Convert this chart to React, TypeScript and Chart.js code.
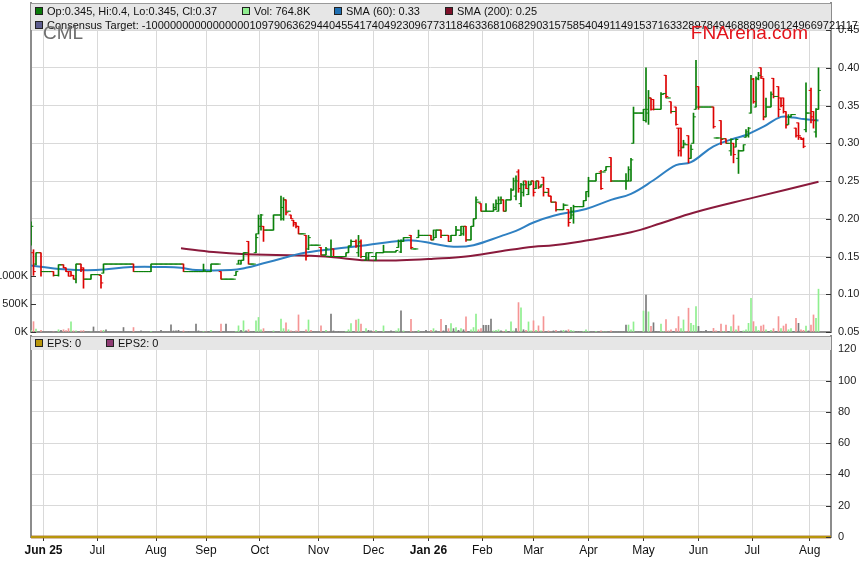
import React, { useEffect, useRef } from 'react';
import { Chart, registerables } from 'chart.js';

Chart.register(...registerables);

const FONT = "'Liberation Sans', Arial, sans-serif";
Chart.defaults.font.family = FONT;

type Bar = [number, number, number, number, number, number];

// trading-day index of the first session of each month
const monthDays = [5, 26.5, 50, 70, 91.5, 115, 137, 159, 180.5, 201, 223, 245, 267, 288.5, 311.5];
const monthLabels = ['Jun 25', 'Jul', 'Aug', 'Sep', 'Oct', 'Nov', 'Dec', 'Jan 26', 'Feb', 'Mar', 'Apr', 'May', 'Jun', 'Jul', 'Aug'];

const priceTicks = [0.05, 0.1, 0.15, 0.2, 0.25, 0.3, 0.35, 0.4, 0.45];
const volumeTicks = [0, 500, 1000]; // thousands
const epsTicks = [0, 20, 40, 60, 80, 100, 120];

// [day, open, high, low, close, volume in K]
const priceBars: Bar[] = [
  [0, 0.17, 0.196, 0.165, 0.19, 30], [1, 0.155, 0.159, 0.125, 0.13, 185], [2, 0.14, 0.155, 0.139, 0.155, 50],
  [3, 0.155, 0.155, 0.155, 0.155, 0], [4, 0.155, 0.155, 0.124, 0.13, 30], [5, 0.13, 0.13, 0.13, 0.13, 0],
  [6, 0.13, 0.13, 0.13, 0.13, 0], [7, 0.13, 0.13, 0.13, 0.13, 0], [8, 0.13, 0.13, 0.13, 0.13, 0],
  [9, 0.13, 0.13, 0.124, 0.125, 0], [10, 0.125, 0.125, 0.125, 0.125, 0], [11, 0.125, 0.139, 0.124, 0.139, 40],
  [12, 0.139, 0.139, 0.139, 0.139, 30], [13, 0.139, 0.139, 0.135, 0.135, 40], [14, 0.135, 0.135, 0.13, 0.13, 25],
  [15, 0.13, 0.13, 0.124, 0.124, 60], [16, 0.13, 0.13, 0.124, 0.125, 180], [17, 0.125, 0.125, 0.12, 0.12, 20],
  [18, 0.12, 0.14, 0.115, 0.14, 20], [19, 0.14, 0.14, 0.14, 0.14, 0], [20, 0.14, 0.14, 0.13, 0.133, 20],
  [21, 0.135, 0.135, 0.108, 0.12, 25], [22, 0.12, 0.12, 0.12, 0.12, 0], [23, 0.12, 0.12, 0.12, 0.12, 0],
  [24, 0.12, 0.126, 0.12, 0.126, 0], [25, 0.126, 0.126, 0.126, 0.126, 90], [26, 0.126, 0.126, 0.126, 0.126, 0],
  [27, 0.126, 0.126, 0.126, 0.126, 0], [28, 0.125, 0.125, 0.108, 0.115, 25], [29, 0.128, 0.14, 0.128, 0.14, 30],
  [30, 0.14, 0.14, 0.14, 0.14, 40], [31, 0.14, 0.14, 0.14, 0.14, 0], [32, 0.14, 0.14, 0.14, 0.14, 0],
  [33, 0.14, 0.14, 0.14, 0.14, 0], [34, 0.14, 0.14, 0.14, 0.14, 0], [35, 0.14, 0.14, 0.14, 0.14, 0],
  [36, 0.14, 0.14, 0.14, 0.14, 0], [37, 0.14, 0.14, 0.14, 0.14, 80], [38, 0.14, 0.14, 0.14, 0.14, 0],
  [39, 0.14, 0.14, 0.14, 0.14, 0], [40, 0.14, 0.14, 0.14, 0.14, 0], [41, 0.14, 0.14, 0.13, 0.13, 80],
  [42, 0.13, 0.13, 0.13, 0.13, 0], [43, 0.13, 0.13, 0.13, 0.13, 0], [44, 0.13, 0.13, 0.13, 0.13, 20],
  [45, 0.13, 0.13, 0.13, 0.13, 0], [46, 0.13, 0.13, 0.13, 0.13, 0], [47, 0.13, 0.13, 0.13, 0.13, 0],
  [48, 0.13, 0.14, 0.13, 0.14, 10], [49, 0.14, 0.14, 0.14, 0.14, 0], [50, 0.14, 0.14, 0.14, 0.14, 0],
  [51, 0.14, 0.14, 0.14, 0.14, 0], [52, 0.14, 0.14, 0.14, 0.14, 30], [53, 0.14, 0.14, 0.14, 0.14, 0],
  [54, 0.14, 0.14, 0.14, 0.14, 0], [55, 0.14, 0.14, 0.14, 0.14, 0], [56, 0.14, 0.14, 0.14, 0.14, 130],
  [57, 0.14, 0.14, 0.14, 0.14, 20], [58, 0.14, 0.14, 0.14, 0.14, 20], [59, 0.14, 0.14, 0.14, 0.14, 30],
  [60, 0.14, 0.14, 0.14, 0.14, 0], [61, 0.14, 0.14, 0.13, 0.13, 20], [62, 0.13, 0.13, 0.13, 0.13, 0],
  [63, 0.13, 0.13, 0.13, 0.13, 10], [64, 0.13, 0.13, 0.13, 0.13, 0], [65, 0.13, 0.13, 0.13, 0.13, 0],
  [66, 0.13, 0.13, 0.13, 0.13, 140], [67, 0.13, 0.13, 0.13, 0.13, 20], [68, 0.13, 0.13, 0.13, 0.13, 0],
  [69, 0.13, 0.14, 0.13, 0.132, 10], [70, 0.13, 0.13, 0.13, 0.13, 0], [71, 0.13, 0.13, 0.13, 0.13, 10],
  [72, 0.13, 0.14, 0.13, 0.14, 30], [73, 0.14, 0.14, 0.14, 0.14, 0], [74, 0.14, 0.14, 0.14, 0.14, 0],
  [75, 0.14, 0.14, 0.14, 0.14, 0], [76, 0.13, 0.13, 0.12, 0.12, 140], [77, 0.12, 0.12, 0.12, 0.12, 0],
  [78, 0.12, 0.12, 0.12, 0.12, 140], [79, 0.12, 0.12, 0.12, 0.12, 0], [80, 0.12, 0.12, 0.12, 0.12, 0],
  [81, 0.12, 0.12, 0.12, 0.12, 0], [82, 0.125, 0.13, 0.125, 0.13, 10], [83, 0.14, 0.145, 0.14, 0.145, 110],
  [84, 0.14, 0.145, 0.14, 0.145, 30], [85, 0.145, 0.155, 0.145, 0.155, 200], [86, 0.155, 0.155, 0.155, 0.155, 20],
  [87, 0.17, 0.17, 0.14, 0.14, 40], [88, 0.14, 0.14, 0.14, 0.14, 0], [89, 0.14, 0.14, 0.14, 0.14, 10],
  [90, 0.155, 0.18, 0.155, 0.175, 200], [91, 0.18, 0.205, 0.18, 0.2, 260], [92, 0.19, 0.206, 0.185, 0.205, 40],
  [93, 0.19, 0.19, 0.17, 0.185, 60], [94, 0.185, 0.185, 0.185, 0.185, 0], [95, 0.185, 0.185, 0.185, 0.185, 0],
  [96, 0.185, 0.185, 0.185, 0.185, 0], [97, 0.185, 0.205, 0.185, 0.205, 20], [98, 0.205, 0.205, 0.205, 0.205, 0],
  [99, 0.205, 0.205, 0.205, 0.205, 0], [100, 0.205, 0.23, 0.198, 0.215, 230], [101, 0.2, 0.228, 0.198, 0.225, 60],
  [102, 0.225, 0.225, 0.205, 0.208, 165], [103, 0.21, 0.21, 0.21, 0.21, 40], [104, 0.205, 0.205, 0.2, 0.2, 20],
  [105, 0.198, 0.198, 0.19, 0.193, 0], [106, 0.195, 0.195, 0.188, 0.19, 20], [107, 0.19, 0.19, 0.18, 0.18, 305],
  [108, 0.18, 0.18, 0.18, 0.18, 0], [109, 0.18, 0.18, 0.18, 0.18, 0], [110, 0.178, 0.178, 0.145, 0.15, 40],
  [111, 0.16, 0.178, 0.159, 0.175, 215], [112, 0.165, 0.165, 0.165, 0.165, 30], [113, 0.165, 0.165, 0.165, 0.165, 0],
  [114, 0.165, 0.165, 0.165, 0.165, 0], [115, 0.165, 0.165, 0.165, 0.165, 0], [116, 0.162, 0.162, 0.152, 0.152, 110],
  [117, 0.152, 0.152, 0.152, 0.152, 0], [118, 0.152, 0.162, 0.152, 0.16, 30], [119, 0.15, 0.15, 0.15, 0.15, 0],
  [120, 0.15, 0.172, 0.15, 0.15, 320], [121, 0.16, 0.16, 0.15, 0.15, 20], [122, 0.15, 0.15, 0.15, 0.15, 0],
  [123, 0.15, 0.15, 0.15, 0.15, 10], [124, 0.15, 0.15, 0.15, 0.15, 0], [125, 0.15, 0.15, 0.15, 0.15, 0],
  [126, 0.15, 0.155, 0.15, 0.155, 10], [127, 0.155, 0.164, 0.155, 0.164, 40], [128, 0.164, 0.172, 0.164, 0.17, 150],
  [129, 0.17, 0.17, 0.17, 0.17, 0], [130, 0.17, 0.172, 0.162, 0.164, 215], [131, 0.155, 0.178, 0.15, 0.168, 230],
  [132, 0.17, 0.172, 0.148, 0.15, 140], [133, 0.15, 0.15, 0.15, 0.15, 0], [134, 0.145, 0.155, 0.145, 0.155, 60],
  [135, 0.148, 0.155, 0.145, 0.155, 30], [136, 0.155, 0.155, 0.155, 0.155, 20], [137, 0.15, 0.15, 0.15, 0.15, 10],
  [138, 0.145, 0.155, 0.145, 0.155, 30], [139, 0.155, 0.155, 0.155, 0.155, 0], [140, 0.155, 0.155, 0.155, 0.155, 0],
  [141, 0.155, 0.165, 0.155, 0.156, 110], [142, 0.156, 0.156, 0.156, 0.156, 0], [143, 0.156, 0.156, 0.156, 0.156, 0],
  [144, 0.156, 0.156, 0.156, 0.156, 20], [145, 0.156, 0.156, 0.156, 0.156, 0], [146, 0.156, 0.158, 0.156, 0.158, 20],
  [147, 0.162, 0.172, 0.162, 0.17, 60], [148, 0.156, 0.172, 0.155, 0.17, 380], [149, 0.17, 0.175, 0.17, 0.175, 20],
  [150, 0.175, 0.175, 0.175, 0.175, 0], [151, 0.175, 0.175, 0.175, 0.175, 0], [152, 0.178, 0.178, 0.16, 0.162, 225],
  [153, 0.16, 0.16, 0.16, 0.16, 0], [154, 0.16, 0.16, 0.16, 0.16, 0], [155, 0.175, 0.185, 0.175, 0.178, 30],
  [156, 0.178, 0.178, 0.178, 0.178, 0], [157, 0.178, 0.178, 0.178, 0.178, 0], [158, 0.178, 0.178, 0.178, 0.178, 30],
  [159, 0.178, 0.178, 0.178, 0.178, 0], [160, 0.178, 0.178, 0.172, 0.172, 30], [161, 0.172, 0.185, 0.172, 0.185, 60],
  [162, 0.175, 0.185, 0.175, 0.185, 20], [163, 0.185, 0.185, 0.185, 0.185, 0], [164, 0.185, 0.185, 0.175, 0.178, 225],
  [165, 0.178, 0.178, 0.178, 0.178, 20], [166, 0.178, 0.178, 0.178, 0.178, 120], [167, 0.178, 0.178, 0.17, 0.17, 60],
  [168, 0.17, 0.178, 0.17, 0.178, 150], [169, 0.178, 0.178, 0.178, 0.178, 60], [170, 0.178, 0.19, 0.178, 0.185, 80],
  [171, 0.185, 0.185, 0.185, 0.185, 30], [172, 0.178, 0.19, 0.178, 0.19, 60], [173, 0.18, 0.19, 0.178, 0.19, 40],
  [174, 0.19, 0.19, 0.17, 0.172, 270], [175, 0.172, 0.172, 0.172, 0.172, 10], [176, 0.172, 0.19, 0.172, 0.19, 40],
  [177, 0.19, 0.2, 0.19, 0.2, 80], [178, 0.2, 0.229, 0.2, 0.225, 320], [179, 0.222, 0.222, 0.222, 0.222, 40],
  [180, 0.22, 0.22, 0.21, 0.21, 60], [181, 0.21, 0.21, 0.21, 0.21, 120], [182, 0.21, 0.22, 0.21, 0.21, 120],
  [183, 0.21, 0.21, 0.21, 0.21, 120], [184, 0.21, 0.21, 0.21, 0.21, 230], [185, 0.21, 0.22, 0.21, 0.215, 20],
  [186, 0.212, 0.225, 0.212, 0.22, 30], [187, 0.21, 0.229, 0.21, 0.225, 40], [188, 0.22, 0.229, 0.22, 0.225, 20],
  [189, 0.225, 0.225, 0.21, 0.21, 10], [190, 0.21, 0.225, 0.21, 0.225, 40], [191, 0.225, 0.225, 0.225, 0.225, 10],
  [192, 0.225, 0.24, 0.225, 0.238, 180], [193, 0.238, 0.254, 0.238, 0.25, 20], [194, 0.23, 0.257, 0.225, 0.25, 60],
  [195, 0.262, 0.265, 0.235, 0.24, 525], [196, 0.22, 0.247, 0.216, 0.245, 430], [197, 0.235, 0.25, 0.23, 0.245, 40],
  [198, 0.25, 0.25, 0.24, 0.24, 30], [199, 0.232, 0.25, 0.232, 0.245, 180], [200, 0.245, 0.25, 0.245, 0.25, 20],
  [201, 0.25, 0.25, 0.23, 0.235, 200], [202, 0.24, 0.25, 0.24, 0.25, 30], [203, 0.25, 0.25, 0.24, 0.242, 110],
  [204, 0.242, 0.245, 0.242, 0.245, 20], [205, 0.255, 0.255, 0.23, 0.235, 275], [206, 0.235, 0.235, 0.235, 0.235, 0],
  [207, 0.24, 0.24, 0.23, 0.23, 20], [208, 0.23, 0.23, 0.222, 0.222, 0], [209, 0.222, 0.222, 0.222, 0.222, 20],
  [210, 0.222, 0.222, 0.21, 0.212, 30], [211, 0.212, 0.212, 0.212, 0.212, 0], [212, 0.212, 0.212, 0.212, 0.212, 20],
  [213, 0.212, 0.22, 0.212, 0.218, 30], [214, 0.218, 0.218, 0.218, 0.218, 20], [215, 0.212, 0.212, 0.19, 0.195, 40],
  [216, 0.2, 0.215, 0.2, 0.21, 30], [217, 0.205, 0.218, 0.194, 0.216, 20], [218, 0.216, 0.216, 0.216, 0.216, 10],
  [219, 0.216, 0.216, 0.216, 0.216, 10], [220, 0.216, 0.216, 0.216, 0.216, 0], [221, 0.216, 0.224, 0.216, 0.224, 10],
  [222, 0.224, 0.236, 0.224, 0.236, 40], [223, 0.236, 0.255, 0.229, 0.25, 10], [224, 0.25, 0.25, 0.25, 0.25, 0],
  [225, 0.25, 0.25, 0.25, 0.25, 0], [226, 0.25, 0.26, 0.25, 0.26, 10], [227, 0.26, 0.26, 0.26, 0.26, 0],
  [228, 0.262, 0.264, 0.239, 0.24, 20], [229, 0.262, 0.262, 0.262, 0.262, 0], [230, 0.264, 0.269, 0.264, 0.269, 0],
  [231, 0.269, 0.269, 0.269, 0.269, 0], [232, 0.281, 0.281, 0.249, 0.25, 20], [233, 0.25, 0.25, 0.25, 0.25, 0],
  [234, 0.25, 0.25, 0.25, 0.25, 0], [235, 0.25, 0.25, 0.25, 0.25, 0], [236, 0.25, 0.25, 0.25, 0.25, 0],
  [237, 0.25, 0.25, 0.25, 0.25, 0], [238, 0.25, 0.26, 0.239, 0.25, 125], [239, 0.25, 0.269, 0.25, 0.265, 125],
  [240, 0.25, 0.28, 0.25, 0.278, 40], [241, 0.3, 0.348, 0.3, 0.34, 180], [242, 0.34, 0.34, 0.34, 0.34, 0],
  [243, 0.34, 0.34, 0.34, 0.34, 0], [244, 0.34, 0.34, 0.34, 0.34, 0], [245, 0.34, 0.345, 0.33, 0.345, 375],
  [246, 0.33, 0.4, 0.328, 0.345, 660], [247, 0.34, 0.37, 0.325, 0.36, 360], [248, 0.36, 0.36, 0.344, 0.345, 100],
  [249, 0.358, 0.358, 0.344, 0.345, 165], [250, 0.345, 0.345, 0.345, 0.345, 10], [251, 0.345, 0.345, 0.345, 0.345, 0],
  [252, 0.345, 0.367, 0.345, 0.365, 140], [253, 0.365, 0.366, 0.365, 0.366, 10], [254, 0.39, 0.39, 0.36, 0.362, 220],
  [255, 0.36, 0.36, 0.36, 0.36, 20], [256, 0.355, 0.355, 0.34, 0.342, 40], [257, 0.342, 0.342, 0.342, 0.342, 10],
  [258, 0.348, 0.348, 0.324, 0.325, 60], [259, 0.32, 0.32, 0.283, 0.29, 275], [260, 0.32, 0.32, 0.283, 0.295, 60],
  [261, 0.294, 0.304, 0.294, 0.3, 215], [262, 0.298, 0.298, 0.298, 0.298, 10], [263, 0.31, 0.31, 0.274, 0.28, 425],
  [264, 0.28, 0.298, 0.28, 0.292, 155], [265, 0.3, 0.34, 0.3, 0.335, 120], [266, 0.345, 0.41, 0.345, 0.348, 455],
  [267, 0.375, 0.375, 0.345, 0.348, 100], [268, 0.348, 0.348, 0.348, 0.348, 10], [269, 0.348, 0.348, 0.348, 0.348, 0],
  [270, 0.348, 0.348, 0.348, 0.348, 30], [271, 0.348, 0.348, 0.348, 0.348, 0], [272, 0.348, 0.348, 0.348, 0.348, 10],
  [273, 0.348, 0.348, 0.32, 0.322, 65], [274, 0.307, 0.307, 0.307, 0.307, 20], [275, 0.307, 0.307, 0.307, 0.307, 10],
  [276, 0.33, 0.33, 0.298, 0.305, 143], [277, 0.306, 0.306, 0.306, 0.306, 10], [278, 0.306, 0.306, 0.3, 0.3, 125],
  [279, 0.3, 0.3, 0.3, 0.3, 10], [280, 0.29, 0.306, 0.284, 0.305, 95], [281, 0.3, 0.3, 0.274, 0.285, 305],
  [282, 0.295, 0.306, 0.295, 0.305, 40], [283, 0.28, 0.291, 0.26, 0.29, 107], [284, 0.29, 0.29, 0.29, 0.29, 10],
  [285, 0.29, 0.298, 0.29, 0.298, 20], [286, 0.308, 0.318, 0.308, 0.315, 40], [287, 0.31, 0.321, 0.308, 0.32, 155],
  [288, 0.34, 0.39, 0.34, 0.385, 600], [289, 0.385, 0.386, 0.353, 0.355, 185], [290, 0.348, 0.388, 0.348, 0.385, 95],
  [291, 0.386, 0.394, 0.384, 0.39, 30], [292, 0.4, 0.4, 0.386, 0.388, 107], [293, 0.386, 0.386, 0.331, 0.335, 125],
  [294, 0.335, 0.36, 0.335, 0.348, 40], [295, 0.348, 0.348, 0.348, 0.348, 10], [296, 0.348, 0.368, 0.348, 0.365, 30],
  [297, 0.386, 0.386, 0.36, 0.362, 60], [298, 0.362, 0.362, 0.362, 0.362, 10], [299, 0.375, 0.375, 0.335, 0.345, 275],
  [300, 0.36, 0.36, 0.348, 0.35, 60], [301, 0.36, 0.36, 0.34, 0.342, 107], [302, 0.342, 0.342, 0.32, 0.324, 143],
  [303, 0.325, 0.338, 0.325, 0.335, 40], [304, 0.335, 0.338, 0.335, 0.338, 60], [305, 0.338, 0.338, 0.338, 0.338, 10],
  [306, 0.32, 0.32, 0.308, 0.31, 245], [307, 0.327, 0.327, 0.305, 0.31, 155], [308, 0.308, 0.308, 0.305, 0.305, 40],
  [309, 0.306, 0.307, 0.294, 0.296, 30], [310, 0.318, 0.38, 0.315, 0.34, 107], [311, 0.34, 0.34, 0.34, 0.34, 20],
  [312, 0.37, 0.373, 0.327, 0.335, 125], [313, 0.342, 0.342, 0.32, 0.33, 305], [314, 0.315, 0.346, 0.308, 0.345, 245],
  [315, 0.345, 0.4, 0.345, 0.37, 764.8],
];

// [day, value]
const sma60: [number, number][] = [
  [0, 0.138], [13, 0.133], [26, 0.132], [40, 0.136], [53, 0.136], [60, 0.135], [66, 0.132], [80, 0.132],
  [86, 0.135], [93, 0.141], [101, 0.148], [108, 0.154], [121, 0.16], [134, 0.165], [148, 0.171], [154, 0.171],
  [161, 0.167], [169, 0.163], [177, 0.165], [188, 0.177], [194, 0.184], [201, 0.195], [209, 0.204], [222, 0.213],
  [232, 0.225], [240, 0.233], [249, 0.251], [258, 0.271], [264, 0.275], [273, 0.296], [282, 0.307], [286, 0.311],
  [293, 0.322], [300, 0.335], [305, 0.334], [309, 0.332], [315, 0.33],
];
const sma200: [number, number][] = [
  [60, 0.161], [73, 0.156], [86, 0.153], [98, 0.152], [112, 0.151], [121, 0.149], [134, 0.145], [148, 0.145],
  [161, 0.147], [174, 0.15], [188, 0.157], [201, 0.163], [209, 0.165], [220, 0.17], [240, 0.182], [252, 0.194],
  [265, 0.208], [289, 0.228], [315, 0.249],
];
const epsValues: [number, number][] = [[0, 0], [320, 0]];
const eps2Values: [number, number][] = [[0, 0], [320, 0]];
const consensusTarget =
  '-1000000000000000010979063629440455417404923096773118463368106829031575854049114915371633289784946888990612496697211172';

const UP = '#0a800a';
const DOWN = '#dd0000';
const GRID = '#d9d9d9';
const FRAME = '#8c8c8c';

const barColor = (b: Bar) => (b[4] >= b[1] ? UP : DOWN);
const volColor = (b: Bar, i: number) => {
  const prev = i > 0 ? priceBars[i - 1][4] : b[1];
  if (b[4] > prev) return '#8fef8f';
  if (b[4] < prev) return '#f59595';
  return '#7a7a7a';
};

const monthTicks = (s: any) => {
  s.ticks = monthDays.map((v) => ({ value: v }));
};

// fixed axis sizes; drop the label overhang padding so the panels keep their frame
const fixSize = (w: number | null, h: number | null) => (s: any) => {
  if (w !== null) s.width = w;
  if (h !== null) s.height = h;
  s.paddingTop = 0;
  s.paddingBottom = 0;
  s.paddingLeft = 0;
  s.paddingRight = 0;
};

const innerTicks = {
  id: 'innerTicks',
  afterDraw(chart: any) {
    const { ctx } = chart;
    ctx.save();
    ctx.strokeStyle = '#333';
    ctx.lineWidth = 1;
    Object.values(chart.scales).forEach((scale: any) => {
      if (scale.axis !== 'y' || scale.options.ticks.display === false) return;
      const right = scale.position === 'right';
      const x0 = right ? scale.left : scale.right;
      scale.ticks.forEach((t: any) => {
        const y = Math.round(scale.getPixelForValue(t.value)) + 0.5;
        ctx.beginPath();
        ctx.moveTo(x0, y);
        ctx.lineTo(right ? x0 - 5 : x0 + 5, y);
        ctx.stroke();
      });
    });
    ctx.restore();
  },
};

function legendItem(ctx: CanvasRenderingContext2D, x: number, y: number, color: string, text: string) {
  ctx.fillStyle = color;
  ctx.fillRect(x, y - 4, 8, 8);
  ctx.strokeStyle = '#222';
  ctx.lineWidth = 1;
  ctx.strokeRect(x + 0.5, y - 3.5, 7, 7);
  ctx.fillStyle = '#111';
  ctx.fillText(text, x + 12, y + 0.5);
}

const priceHeader = {
  id: 'priceHeader',
  afterDraw(chart: any) {
    const { ctx, chartArea } = chart;
    const { left, top, right } = chartArea;
    const last = priceBars[priceBars.length - 1];
    ctx.save();
    ctx.fillStyle = '#e6e6e6';
    ctx.fillRect(left, top, right - left, 27);
    ctx.strokeStyle = '#9a9a9a';
    ctx.beginPath();
    ctx.moveTo(left, top + 0.5);
    ctx.lineTo(right, top + 0.5);
    ctx.stroke();

    ctx.font = `11px ${FONT}`;
    ctx.textBaseline = 'middle';
    legendItem(ctx, left + 4, top + 8, '#0a7a0a', `Op:${last[1]}, Hi:${last[2]}, Lo:${last[3]}, Cl:${last[4]}`);
    legendItem(ctx, left + 211, top + 8, '#90ee90', `Vol: ${last[5]}K`);
    legendItem(ctx, left + 303, top + 8, '#1f6fb2', `SMA (60): ${sma60[sma60.length - 1][1].toFixed(2)}`);
    legendItem(ctx, left + 414, top + 8, '#7d1029', `SMA (200): ${sma200[sma200.length - 1][1].toFixed(2)}`);
    legendItem(ctx, left + 4, top + 22, '#5c5c8e', `Consensus Target: ${consensusTarget}`);

    ctx.textBaseline = 'alphabetic';
    ctx.font = `19px ${FONT}`;
    ctx.fillStyle = '#6e6e6e';
    ctx.fillText('CML', left + 12, top + 36);
    ctx.fillStyle = '#e3141b';
    ctx.textAlign = 'right';
    ctx.fillText('FNArena.com', right - 23, top + 36);
    ctx.restore();
  },
};

const epsHeader = {
  id: 'epsHeader',
  afterDraw(chart: any) {
    const { ctx, chartArea } = chart;
    const { left, top, right } = chartArea;
    ctx.save();
    ctx.fillStyle = '#e6e6e6';
    ctx.fillRect(left, top, right - left, 14);
    ctx.strokeStyle = '#9a9a9a';
    ctx.beginPath();
    ctx.moveTo(left, top + 0.5);
    ctx.lineTo(right, top + 0.5);
    ctx.stroke();
    ctx.font = `11px ${FONT}`;
    ctx.textBaseline = 'middle';
    legendItem(ctx, left + 4, top + 7, '#b8960b', `EPS: ${epsValues[epsValues.length - 1][1]}`);
    legendItem(ctx, left + 75, top + 7, '#8e3b73', `EPS2: ${eps2Values[eps2Values.length - 1][1]}`);
    ctx.restore();
  },
};

const priceConfig = (): any => ({
  data: {
    datasets: [
      {
        type: 'line',
        label: 'Open',
        showLine: false,
        data: priceBars.map((b) => ({ x: b[0] - 0.45, y: b[1] })),
        pointStyle: 'line',
        pointRadius: 1.2,
        pointBorderWidth: 1,
        pointBorderColor: priceBars.map(barColor),
        yAxisID: 'y',
        order: 0,
      },
      {
        type: 'line',
        label: 'Close',
        showLine: false,
        data: priceBars.map((b) => ({ x: b[0] + 0.45, y: b[4] })),
        pointStyle: 'line',
        pointRadius: 1.2,
        pointBorderWidth: 1,
        pointBorderColor: priceBars.map(barColor),
        yAxisID: 'y',
        order: 0,
      },
      {
        type: 'bar',
        label: 'Range',
        data: priceBars.map((b) => ({ x: b[0], y: [b[3], b[2]] })),
        backgroundColor: priceBars.map(barColor),
        barThickness: 1,
        grouped: false,
        yAxisID: 'y',
        order: 1,
      },
      {
        type: 'line',
        label: 'SMA (60)',
        data: sma60.map(([x, y]) => ({ x, y })),
        borderColor: '#2f80c2',
        borderWidth: 2,
        pointRadius: 0,
        tension: 0.4,
        yAxisID: 'y',
        order: 2,
      },
      {
        type: 'line',
        label: 'SMA (200)',
        data: sma200.map(([x, y]) => ({ x, y })),
        borderColor: '#8a1a3c',
        borderWidth: 2,
        pointRadius: 0,
        tension: 0.4,
        yAxisID: 'y',
        order: 3,
      },
      {
        type: 'bar',
        label: 'Volume',
        data: priceBars.map((b) => ({ x: b[0], y: b[5] })),
        backgroundColor: priceBars.map(volColor),
        barThickness: 1,
        grouped: false,
        yAxisID: 'yVol',
        order: 4,
      },
    ],
  },
  options: {
    responsive: false,
    animation: false,
    events: [],
    layout: { autoPadding: false, padding: { top: 3, bottom: 9 } },
    plugins: { legend: { display: false }, tooltip: { enabled: false } },
    scales: {
      x: {
        type: 'linear',
        min: 0,
        max: 320,
        offset: false,
        afterBuildTicks: monthTicks,
        ticks: { display: false },
        grid: { color: GRID, drawTicks: false, offset: false },
        border: { color: FRAME, width: 2 },
        afterFit: fixSize(null, 0),
      },
      y: {
        type: 'linear',
        position: 'right',
        min: 0.05,
        max: 0.4858,
        afterBuildTicks: (s: any) => {
          s.ticks = priceTicks.map((v) => ({ value: v }));
        },
        ticks: { callback: (v: any) => Number(v).toFixed(2), color: '#222', font: { size: 11 }, padding: 7 },
        grid: { color: GRID, drawTicks: false },
        border: { color: FRAME, width: 2 },
        afterFit: fixSize(28, null),
      },
      yVol: {
        type: 'linear',
        position: 'left',
        min: 0,
        max: 5875,
        afterBuildTicks: (s: any) => {
          s.ticks = volumeTicks.map((v) => ({ value: v }));
        },
        ticks: { callback: (v: any) => `${v}K`, color: '#222', font: { size: 11 }, padding: 3 },
        grid: { drawOnChartArea: false, drawTicks: false },
        border: { color: FRAME, width: 2 },
        afterFit: fixSize(31, null),
      },
    },
  },
  plugins: [innerTicks, priceHeader],
});

const epsConfig = (): any => ({
  data: {
    datasets: [
      {
        type: 'line',
        label: 'EPS',
        data: epsValues.map(([x, y]) => ({ x, y })),
        borderColor: '#b8960b',
        borderWidth: 2.5,
        pointRadius: 0,
        clip: false,
        order: 0,
      },
      {
        type: 'line',
        label: 'EPS2',
        data: eps2Values.map(([x, y]) => ({ x, y })),
        borderColor: '#8e3b73',
        borderWidth: 2.5,
        pointRadius: 0,
        clip: false,
        order: 1,
      },
    ],
  },
  options: {
    responsive: false,
    animation: false,
    events: [],
    layout: { autoPadding: false, padding: { top: 3 } },
    plugins: { legend: { display: false }, tooltip: { enabled: false } },
    scales: {
      x: {
        type: 'linear',
        min: 0,
        max: 320,
        offset: false,
        afterBuildTicks: monthTicks,
        ticks: {
          autoSkip: false,
          maxRotation: 0,
          padding: 2,
          color: '#111',
          callback: (_v: any, i: number) => monthLabels[i],
          font: (c: any) => ({ size: 12, weight: monthLabels[c.index]?.includes(' ') ? 'bold' : 'normal' }),
        },
        grid: { color: GRID, tickColor: '#333', tickLength: 4, offset: false },
        border: { color: FRAME, width: 2 },
        afterFit: fixSize(null, 29),
      },
      y: {
        type: 'linear',
        position: 'right',
        min: 0,
        max: 128.5,
        afterBuildTicks: (s: any) => {
          s.ticks = epsTicks.map((v) => ({ value: v }));
        },
        ticks: { color: '#222', font: { size: 11 }, padding: 7 },
        grid: { color: GRID, drawTicks: false },
        border: { color: FRAME, width: 2 },
        afterFit: fixSize(28, null),
      },
      yLeft: {
        type: 'linear',
        position: 'left',
        min: 0,
        max: 128.5,
        ticks: { display: false },
        grid: { drawOnChartArea: false, drawTicks: false },
        border: { color: FRAME, width: 2 },
        afterFit: fixSize(31, null),
      },
    },
  },
  plugins: [innerTicks, epsHeader],
});

const ChartCanvas: React.FC<{ config: () => any; top: number; height: number }> = ({ config, top, height }) => {
  const canvasRef = useRef<HTMLCanvasElement>(null);
  const chartRef = useRef<Chart | null>(null);

  useEffect(() => {
    if (!canvasRef.current) return;
    if (chartRef.current) chartRef.current.destroy();
    chartRef.current = new Chart(canvasRef.current, config());
    return () => {
      if (chartRef.current) {
        chartRef.current.destroy();
        chartRef.current = null;
      }
    };
  }, [config]);

  return (
    <canvas
      ref={canvasRef}
      width={859}
      height={height}
      style={{ position: 'absolute', left: 0, top, width: 859, height, display: 'block' }}
    />
  );
};

export default function App() {
  useEffect(() => {
    document.body.style.margin = '0';
  }, []);

  return (
    <div style={{ position: 'relative', width: 859, height: 566, background: '#fff', overflow: 'hidden' }}>
      <ChartCanvas config={priceConfig} top={0} height={341} />
      <ChartCanvas config={epsConfig} top={333} height={233} />
    </div>
  );
}
